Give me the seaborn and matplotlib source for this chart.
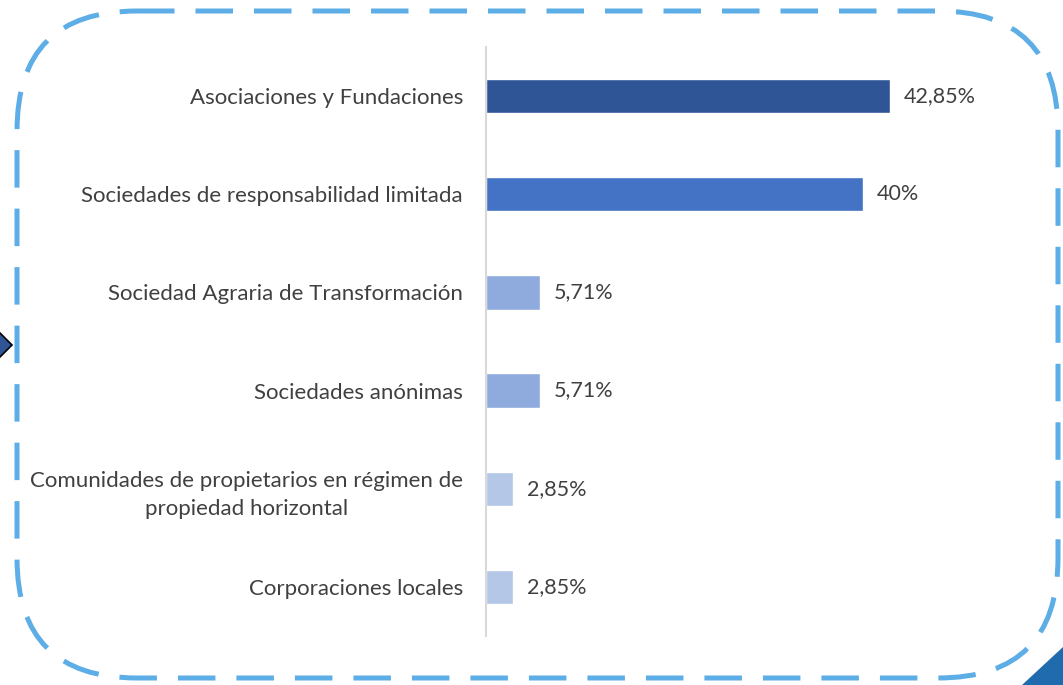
import matplotlib
matplotlib.use("Agg")
import matplotlib.pyplot as plt
import seaborn as sns
import pandas as pd
from matplotlib.patches import FancyBboxPatch, Polygon

# Data
categories = [
    "Asociaciones y Fundaciones",
    "Sociedades de responsabilidad limitada",
    "Sociedad Agraria de Transformación",
    "Sociedades anónimas",
    "Comunidades de propietarios en régimen de\npropiedad horizontal",
    "Corporaciones locales",
]
values = [42.85, 40, 5.71, 5.71, 2.85, 2.85]
value_labels = ["42,85%", "40%", "5,71%", "5,71%", "2,85%", "2,85%"]
bar_colors = ["#2F5597", "#4472C4", "#8FAADC", "#8FAADC", "#B4C7E7", "#B4C7E7"]

df = pd.DataFrame({"categoria": categories, "valor": values})

sns.set_theme(style="white")
plt.rcParams["font.family"] = ["Lato", "DejaVu Sans"]

W, H = 1063, 685
fig = plt.figure(figsize=(W / 100, H / 100), dpi=100)

# Decorative layer in pixel coordinates
deco = fig.add_axes([0, 0, 1, 1], zorder=0)
deco.set_xlim(0, W)
deco.set_ylim(H, 0)
deco.axis("off")
border = FancyBboxPatch((17, 11), 1041, 667,
                        boxstyle="round,pad=0,rounding_size=120",
                        fill=False, edgecolor="#5DADE6", linewidth=3.6,
                        linestyle=(0, (7.5, 4.2)), capstyle="butt")
deco.add_patch(border)
deco.add_patch(Polygon([(-30, 345), (-9, 324), (12, 345), (-9, 366)],
                       closed=True, facecolor="#2F5597", edgecolor="black",
                       linewidth=1.2))
deco.add_patch(Polygon([(1022, H), (W, 647), (W, H)], closed=True,
                       facecolor="#1F6BAE", edgecolor="none"))

# Bar chart
left = 486 / W
right_px = 486 + 50 * 9.43
ax = fig.add_axes([left, 1 - 636 / H, (right_px - 486) / W, (636 - 47) / H], zorder=1)
ax.patch.set_alpha(0)
sns.barplot(data=df, x="valor", y="categoria", hue="categoria",
            palette=bar_colors, saturation=1, orient="h", width=0.35,
            legend=False, ax=ax)
ax.set_xlim(0, 50)
ax.set_xlabel("")
ax.set_ylabel("")
ax.set_xticks([])
for s in ["top", "right", "bottom"]:
    ax.spines[s].set_visible(False)
ax.spines["left"].set_color("#D9D9D9")
ax.spines["left"].set_linewidth(1.5)
ax.tick_params(axis="y", length=0, pad=16.5, labelsize=16, labelcolor="#404040")
for lbl in ax.get_yticklabels():
    lbl.set_multialignment("center")
    lbl.set_linespacing(1.5)

for i, (v, t) in enumerate(zip(values, value_labels)):
    ax.annotate(t, xy=(v, i), xytext=(10, 0), textcoords="offset points",
                ha="left", va="center", fontsize=15.5, color="#404040")

fig.savefig("out.png", dpi=100)
